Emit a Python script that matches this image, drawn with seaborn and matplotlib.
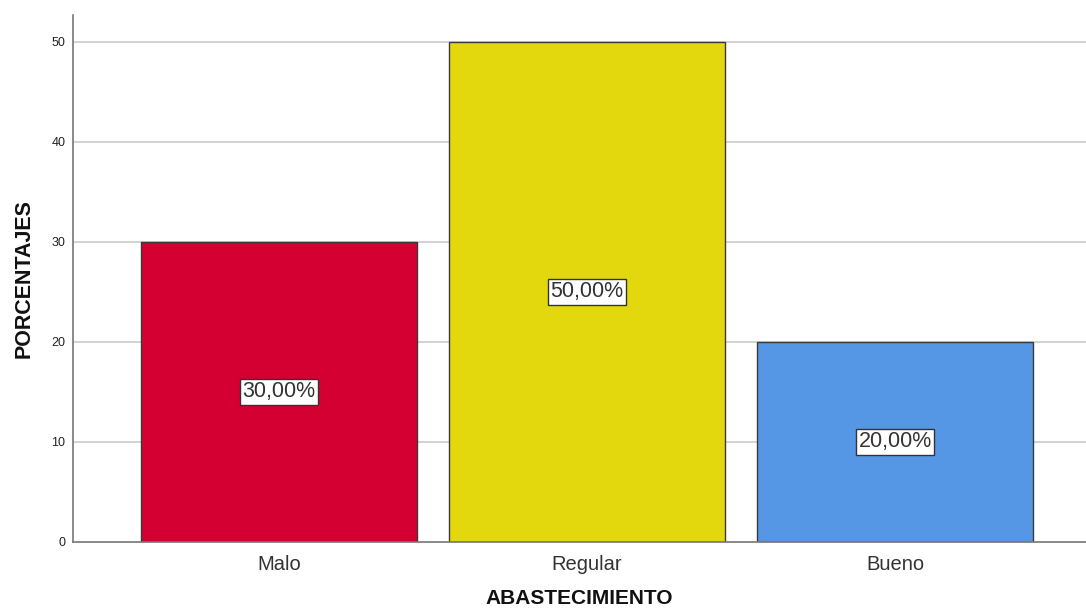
import matplotlib
matplotlib.use("Agg")
import matplotlib.pyplot as plt
import seaborn as sns
import pandas as pd

categories = ["Malo", "Regular", "Bueno"]
percentages = [30.0, 50.0, 20.0]
bar_colors = ["#D50032", "#E3D70E", "#5596E5"]
y_ticks = [0, 10, 20, 30, 40, 50]

df = pd.DataFrame({"categoria": categories, "porcentaje": percentages})

sns.set_theme(style="white")
plt.rcParams["font.family"] = ["Liberation Sans", "DejaVu Sans"]

fig = plt.figure(figsize=(10.86, 6.13), dpi=100)
ax = fig.add_axes([73 / 1086, 1 - 542 / 613, 1 - 73 / 1086, (542 - 15) / 613])

ax.set_axisbelow(True)
for t in y_ticks[1:]:
    ax.axhline(t, color="#CFCFCF", lw=1.3, zorder=0)

sns.barplot(data=df, x="categoria", y="porcentaje", hue="categoria",
            palette=bar_colors, order=categories, width=0.896, saturation=1,
            edgecolor="#3A3A3A", linewidth=1.0, legend=False, ax=ax, zorder=2)

ax.set_xlim(-0.669, 2.62)
ax.set_ylim(0, 52.7)
ax.set_yticks(y_ticks)
ax.set_yticklabels([str(t) for t in y_ticks], fontsize=9, color="#222222")
ax.tick_params(axis="x", labelsize=14.5, colors="#333333", length=0, pad=9.5)
ax.tick_params(axis="y", length=0, pad=5.5)

for side in ["top", "right"]:
    ax.spines[side].set_visible(False)
for side in ["left", "bottom"]:
    ax.spines[side].set_color("#777777")
    ax.spines[side].set_linewidth(1.2)

for i, v in enumerate(percentages):
    ax.text(i, v / 2, f"{v:.2f}".replace(".", ",") + "%", ha="center", va="center",
            fontsize=15.5, color="#333333", zorder=5,
            bbox=dict(boxstyle="square,pad=0.12", facecolor="white",
                      edgecolor="#333333", linewidth=1.0))

ax.set_xlabel("ABASTECIMIENTO", fontsize=15, fontweight="bold", labelpad=11,
              color="#111111")
ax.set_ylabel("PORCENTAJES", fontsize=15.5, fontweight="bold", labelpad=12,
              color="#111111")

fig.savefig("out.png", dpi=100)
